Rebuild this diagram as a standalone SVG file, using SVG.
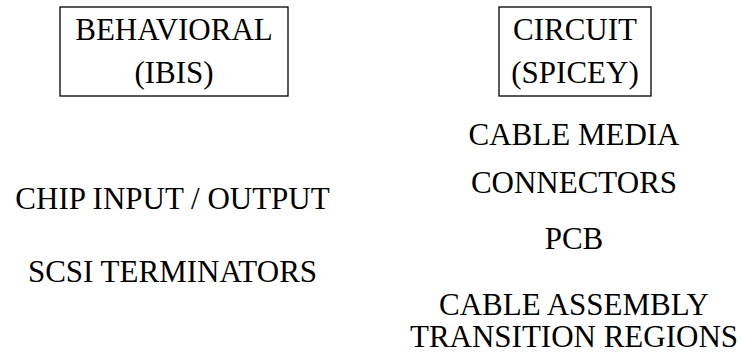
<svg xmlns="http://www.w3.org/2000/svg" width="741" height="354" viewBox="0 0 741 354">
<style>
.t{font-size:31px;fill:#000;text-anchor:middle}
.box{fill:#fff;stroke:#000;stroke-width:1.3}
</style>
<rect width="741" height="354" fill="#fff"/>
<g font-family="Liberation Serif, Times New Roman, serif" class="t">
<g id="behavioral">
<rect class="box" x="60" y="7" width="228" height="89"/>
<text x="174" y="40">BEHAVIORAL</text>
<text x="174" y="83">(IBIS)</text>
</g>
<g id="circuit">
<rect class="box" x="499" y="7" width="152" height="89"/>
<text x="575" y="40">CIRCUIT</text>
<text x="575" y="83">(SPICEY)</text>
</g>
<g id="chip-io"><text x="172.5" y="209">CHIP INPUT / OUTPUT</text></g>
<g id="scsi-terminators"><text x="172.5" y="282">SCSI TERMINATORS</text></g>
<g id="cable-media"><text x="574" y="145">CABLE MEDIA</text></g>
<g id="connectors"><text x="574" y="193">CONNECTORS</text></g>
<g id="pcb"><text x="574" y="249">PCB</text></g>
<g id="cable-assembly"><text x="574" y="315">CABLE ASSEMBLY</text><text x="574" y="347">TRANSITION REGIONS</text></g>
</g>
<g id="connectors-group"></g>
</svg>
